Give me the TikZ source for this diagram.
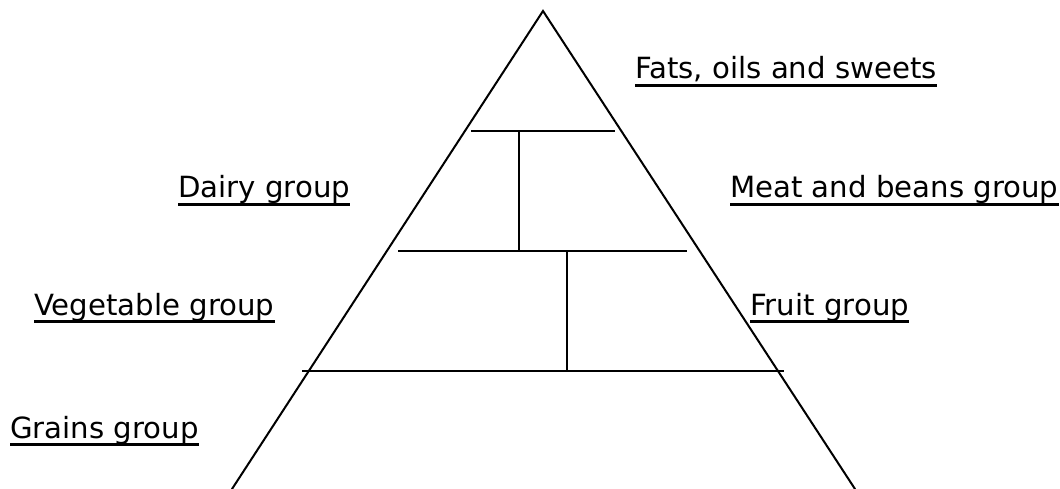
\documentclass[tikz,border=0pt]{standalone}
\usepackage{fontspec}
\setmainfont{DejaVu Sans}
\begin{document}
\begin{tikzpicture}[x=1pt,y=-1pt,
  edge/.style={line width=2pt,line cap=round},
  bar/.style={line width=2.4pt},
  lbl/.style={anchor=base west,inner sep=0pt,font=\fontsize{29.2pt}{34pt}\selectfont},
  ul/.style={line width=3pt}]
\useasboundingbox (0,0) rectangle (1060,489);
\coordinate (apex) at (543,11);
\coordinate (bl) at (232,489);
\coordinate (br) at (855,489);
\draw[edge] (bl) -- (apex) -- (br);
% levels
\coordinate (l1a) at (471,131); \coordinate (l1b) at (615,131);
\coordinate (l2a) at (398,251); \coordinate (l2b) at (687,251);
\coordinate (l3a) at (302,371); \coordinate (l3b) at (784,371);
\draw[bar] (l1a) -- (l1b);
\draw[bar] (l2a) -- (l2b);
\draw[bar] (l3a) -- (l3b);
\coordinate (v1t) at (519,131); \coordinate (v1b) at (519,251);
\coordinate (v2t) at (567,251); \coordinate (v2b) at (567,371);
\draw[bar] (v1t) -- (v1b);
\draw[bar] (v2t) -- (v2b);
% labels
\node[lbl] (fats) at (635,79) {Fats, oils and sweets};
\node[lbl] (dairy) at (178,198) {Dairy group};
\node[lbl] (meat) at (730,198) {Meat and beans group};
\node[lbl] (veg) at (34,315) {Vegetable group};
\node[lbl] (fruit) at (750,315) {Fruit group};
\node[lbl] (grains) at (10,438) {Grains group};
\foreach \n in {fats,dairy,meat,veg,fruit,grains}{
  \draw[ul] ([yshift=-6.5pt]\n.base west) -- ([yshift=-6.5pt]\n.base east);
}
\end{tikzpicture}
\end{document}
